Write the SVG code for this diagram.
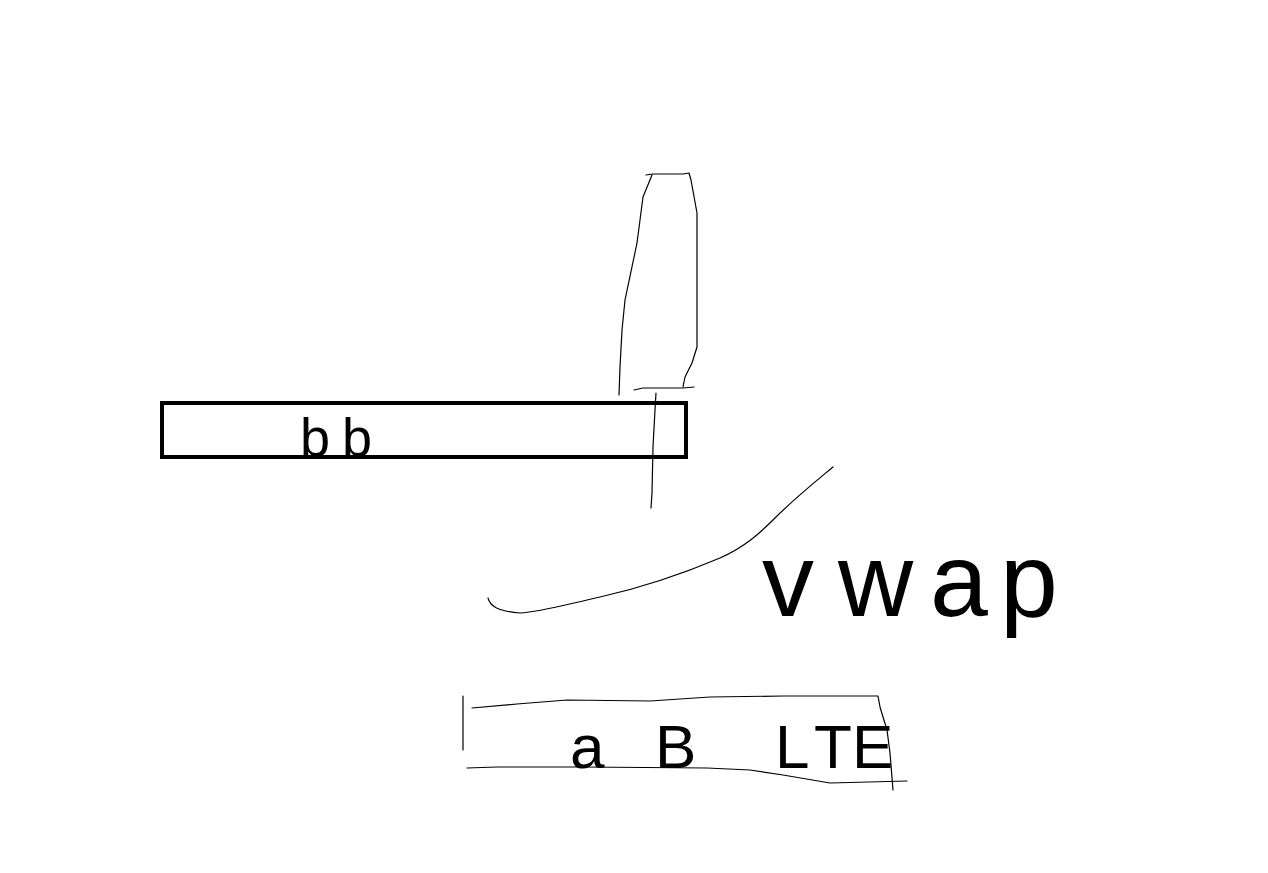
<svg xmlns="http://www.w3.org/2000/svg" width="1268" height="873" viewBox="0 0 1268 873">
  <style>
    .ink { fill: none; stroke: #000; stroke-width: 1.2; stroke-linejoin: round; stroke-linecap: round; }
    .thick { fill: none; stroke: #000; stroke-width: 4; }
    .hand { font-family: "Liberation Sans", "DejaVu Sans", sans-serif; fill: #000; }
  </style>
  <rect width="1268" height="873" fill="#fff"/>

  <g id="connectors">
    <path class="ink" d="M656,393 L655,410 L653,447 L652,493 L651,508"/>
    <path class="ink" d="M488,598 C490,606 497,611 520,613 C540,612 560,606 600,597 C640,588 680,575 720,558 C745,547 760,533 775,518 C795,498 815,482 833,467"/>
  </g>

  <g id="node-bb">
    <rect class="thick" x="162" y="403" width="524" height="54"/>
    <text class="hand" x="300 342" y="456" font-size="54">bb</text>
  </g>

  <g id="node-tall">
    <path class="ink" d="M646,175 L653,174 L683,174 L689,173 L691,180 L697,213 L697,347 L692,363 L685,377 L683,387"/>
    <path class="ink" d="M652,175 L643,197 L637,243 L625,300 L622,330 L620,367 L619,395"/>
    <path class="ink" d="M634,390 L643,388 L667,388 L683,388 L694,387"/>
  </g>

  <g id="node-vwap">
    <text class="hand" x="762 838 930 1000" y="616" font-size="104">vwap</text>
  </g>

  <g id="node-bottom">
    <path class="ink" d="M463,696 L463,750"/>
    <path class="ink" d="M472,708 L517,704 L567,700 L650,701 L710,697 L783,696 L878,696 L880,707 L887,730 L890,753 L893,790"/>
    <path class="ink" d="M467,768 L497,767 L583,767 L707,768 L750,770 L783,775 L830,783 L907,781"/>
    <text class="hand" x="570 655 730 775 814 852" y="768" font-size="62">aB LTE</text>
  </g>
</svg>
